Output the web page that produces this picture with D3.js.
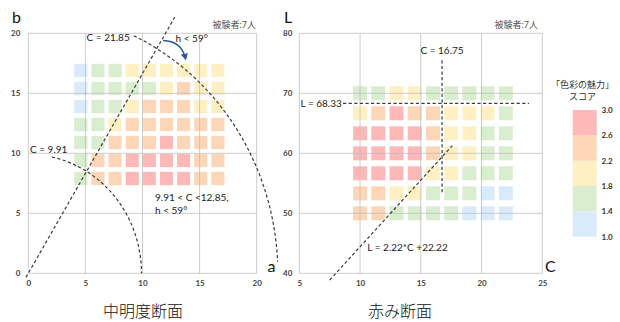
<!DOCTYPE html>
<html><head><meta charset="utf-8">
<script src="https://cdn.jsdelivr.net/npm/d3@7"></script>
<style>
body{margin:0;background:#fff}
text{font-family:Lato,"Noto Sans CJK JP",sans-serif}
</style></head><body>
<svg id="chart" width="620" height="322"></svg>
<script>
// Mean "色彩の魅力" score per colour chip (7 participants)
// Mid-lightness section: a* positions (columns), b* positions (rows, top to bottom)
const midA = [4.6, 6.1, 7.6, 9.1, 10.6, 12.1, 13.6, 15.1, 16.6];
const midB = [16.9, 15.4, 13.9, 12.4, 10.9, 9.4, 7.9];
const midScores = [
  [1.2, 1.6, 1.6, 2.0, 2.0, 2.0, 2.0, 2.0, 2.0],
  [1.2, 1.6, 1.6, 1.6, 1.6, 2.0, 2.4, 2.0, 2.0],
  [1.2, 1.6, 1.6, 2.0, 2.4, 2.4, 2.4, 2.0, 2.0],
  [1.6, 1.6, 2.0, 2.4, 2.4, 2.4, 2.4, 2.4, 2.4],
  [1.6, 1.6, 2.4, 2.4, 2.4, 2.8, 2.4, 2.4, 2.4],
  [1.6, 2.4, 2.4, 2.8, 2.8, 2.8, 2.8, 2.4, 2.4],
  [1.6, 2.4, 2.4, 2.8, 2.8, 2.8, 2.8, 2.4, 2.4]
];
// Redness section: chroma C (columns), lightness L (rows, top to bottom)
const redC = [10, 11.5, 13, 14.5, 16, 17.5, 19, 20.5, 22];
const redL = [70, 66.67, 63.33, 60, 56.67, 53.33, 50];
const redScores = [
  [1.6, 1.6, 2.0, 2.0, 1.6, 1.6, 1.6, 1.6, 1.6],
  [2.0, 2.4, 2.8, 2.4, 2.4, 2.0, 2.0, 2.0, 1.6],
  [2.8, 2.8, 2.8, 2.8, 2.4, 2.0, 2.0, 1.6, 1.6],
  [2.8, 2.8, 2.8, 2.8, 2.4, 2.0, 2.0, 1.6, 1.6],
  [2.8, 2.8, 2.8, 2.8, 2.0, 2.0, 1.6, 1.6, 1.6],
  [2.4, 2.4, 2.0, 2.0, 1.6, 1.6, 1.6, 1.2, 1.2],
  [2.4, 2.4, 1.6, 1.6, 1.6, 1.6, 1.2, 1.2, 1.2]
];
// Score bands and tick labels
const legendBreaks = [1.0, 1.4, 1.8, 2.2, 2.6, 3.0];
const legendLabels = ["1.0", "1.4", "1.8", "2.2", "2.6", "3.0"];
const bandColors = ["#d9ebfb", "#d9edcf", "#fff0c3", "#fdd6b7", "#ffb8b8"];
const midTicks = [0, 5, 10, 15, 20];
const redCTicks = [5, 10, 15, 20, 25];
const redLTicks = [40, 50, 60, 70, 80];
// Boundary values quoted in the annotations
const hueLimit = 59;        // degrees
const chromaInner = 9.91;
const chromaOuter = 21.85;
const chromaLimit = 16.75;
const lightLimit = 68.33;
const slope = 2.22, intercept = 22.22;

const svg = d3.select("#chart");
const color = d3.scaleThreshold().domain(legendBreaks.slice(1, 5)).range(bandColors);
const dashCol = "#3c3c3c";

function panel(xs, ys, xTicks, yTicks, cols, rows, scores, cw, ch, yPad) {
  const g = svg.append("g");
  rows.forEach((rv, j) => cols.forEach((cv, i) => {
    g.append("rect")
      .attr("x", xs(cv - cw / 2)).attr("y", ys(rv + ch / 2))
      .attr("width", xs(cv + cw / 2) - xs(cv - cw / 2))
      .attr("height", ys(rv - ch / 2) - ys(rv + ch / 2))
      .attr("fill", color(scores[j][i]));
  }));
  const grid = g.append("g").attr("stroke", "#bcbcbc").attr("stroke-opacity", 0.75).attr("stroke-width", 1);
  xTicks.forEach(t => grid.append("line").attr("x1", xs(t)).attr("x2", xs(t)).attr("y1", ys.range()[0]).attr("y2", ys.range()[1]));
  yTicks.forEach(t => grid.append("line").attr("y1", ys(t)).attr("y2", ys(t)).attr("x1", xs.range()[0]).attr("x2", xs.range()[1]));
  const ax = g.append("g").attr("transform", `translate(0,${ys.range()[0]})`)
    .call(d3.axisBottom(xs).tickValues(xTicks).tickSize(0).tickPadding(7));
  const ay = g.append("g").attr("transform", `translate(${xs.range()[0]},0)`)
    .call(d3.axisLeft(ys).tickValues(yTicks).tickSize(0).tickPadding(yPad));
  [ax, ay].forEach(a => {
    a.select(".domain").remove();
    a.selectAll("text").attr("font-size", 8).attr("font-weight", 700).attr("fill", "#444").attr("font-family", "Lato");
  });
  return g;
}

function dashed(g, pts) {
  g.append("path").attr("d", d3.line()(pts)).attr("fill", "none")
    .attr("stroke", dashCol).attr("stroke-width", 1.2).attr("stroke-dasharray", "3.2,2.4");
}
function label(g, x, y, txt, size, opts = {}) {
  return g.append("text").attr("x", x).attr("y", y).text(txt)
    .attr("font-size", size).attr("fill", opts.fill || "#222")
    .attr("text-anchor", opts.anchor || "start")
    .attr("font-weight", opts.weight || 400)
    .attr("font-family", opts.family || "Lato, 'Noto Sans CJK JP', sans-serif");
}

// ---- 中明度断面 (a*-b* plane) ----
const xa = d3.scaleLinear([0, 20], [28.3, 256.7]);
const yb = d3.scaleLinear([0, 20], [273.3, 33.3]);
const gL = panel(xa, yb, midTicks, midTicks, midA, midB, midScores, 1.15, 1.11, 8);

const rad = d3.scaleLinear().domain([0, 180]).range([0, Math.PI]);
const arc = (r, a0, a1) => d3.range(0, 61).map(k => {
  const a = rad(a0 + (a1 - a0) * k / 60);
  return [xa(r * Math.cos(a)), yb(r * Math.sin(a))];
});
// hue boundary h = 59°
dashed(gL, [-0.4, 25].map(t => [xa(t * Math.cos(rad(hueLimit))), yb(t * Math.sin(rad(hueLimit)))]));
dashed(gL, arc(chromaInner, 78, 0));
dashed(gL, arc(chromaOuter, 65, 2.5));

// curved arrow indicating the hue side
svg.append("defs").append("marker").attr("id", "head").attr("viewBox", "0 0 10 10")
  .attr("refX", 6).attr("refY", 5).attr("markerWidth", 5).attr("markerHeight", 5)
  .attr("orient", "auto").append("path").attr("d", "M0,0L10,5L0,10z").attr("fill", "#2e5597");
const ap = d3.path();
ap.moveTo(xa(11.8), yb(19.4));
ap.quadraticCurveTo(xa(13.4), yb(19.35), xa(13.75), yb(17.95));
gL.append("path").attr("d", ap.toString()).attr("fill", "none").attr("stroke", "#2e5597")
  .attr("stroke-width", 1.4).attr("marker-end", "url(#head)");

label(gL, xa(5.1), yb(19.35), "C = 21.85", 10);
label(gL, xa(12.9), yb(19.3), "h < 59°", 10);
label(gL, xa(0.15), yb(10.0), "C = 9.91", 10);
label(gL, xa(11.1), yb(6.0), "9.91 < C <12.85,", 10);
label(gL, xa(11.1), yb(4.95), "h < 59°", 10);
label(gL, 12, 22.5, "b", 16, { weight: 400, fill: "#111" });
label(gL, 256, 28, "被験者:7人", 9, { anchor: "end", fill: "#555" });
label(gL, 267.5, 272, "a", 16, { fill: "#111" });
label(gL, 143, 317, "中明度断面", 16, { anchor: "middle", weight: 300, fill: "#111", family: "'Noto Sans CJK JP', sans-serif" });

// ---- 赤み断面 (C-L plane) ----
const xc = d3.scaleLinear([5, 25], [299.3, 542.3]);
const yl = d3.scaleLinear([40, 80], [273.3, 33.3]);
const gR = panel(xc, yl, redCTicks, redLTicks, redC, redL, redScores, 1.15, 2.33, 7);

dashed(gR, [[xc(chromaLimit), yl(75.5)], [xc(chromaLimit), yl(53.2)]]);
dashed(gR, [[xc(8.6), yl(lightLimit)], [xc(23.9), yl(lightLimit)]]);
dashed(gR, [7.5, 17.6].map(c => [xc(c), yl(slope * c + intercept)]));

label(gR, xc(chromaLimit), yl(76.6), "C = 16.75", 10, { anchor: "middle" });
label(gR, xc(5.1), yl(lightLimit) + 3.5, "L = 68.33", 10);
label(gR, xc(10.6), yl(43.8), "L = 2.22*C +22.22", 10);
label(gR, 284, 22.5, "L", 16, { fill: "#111" });
label(gR, 538, 28, "被験者:7人", 9, { anchor: "end", fill: "#555" });
label(gR, 545, 272, "C", 16, { fill: "#111" });
label(gR, 400, 317, "赤み断面", 16, { anchor: "middle", weight: 300, fill: "#111", family: "'Noto Sans CJK JP', sans-serif" });

// ---- legend ----
const ly = d3.scaleLinear([1, 3], [236.7, 110]);
const gLeg = svg.append("g");
bandColors.forEach((c, i) => {
  gLeg.append("rect").attr("x", 572.7).attr("width", 24)
    .attr("y", ly(legendBreaks[i + 1])).attr("height", ly(legendBreaks[i]) - ly(legendBreaks[i + 1]))
    .attr("fill", c);
});
legendBreaks.forEach((b, i) => {
  label(gLeg, 601.5, ly(b) + 3, legendLabels[i], 8, { weight: 700, fill: "#333" });
});
label(gLeg, 582.5, 88, "「色彩の魅力」", 9, { anchor: "middle", fill: "#333", family: "'Noto Sans CJK JP', sans-serif" });
label(gLeg, 582.5, 100, "スコア", 9, { anchor: "middle", fill: "#333", family: "'Noto Sans CJK JP', sans-serif" });
</script>
</body></html>
